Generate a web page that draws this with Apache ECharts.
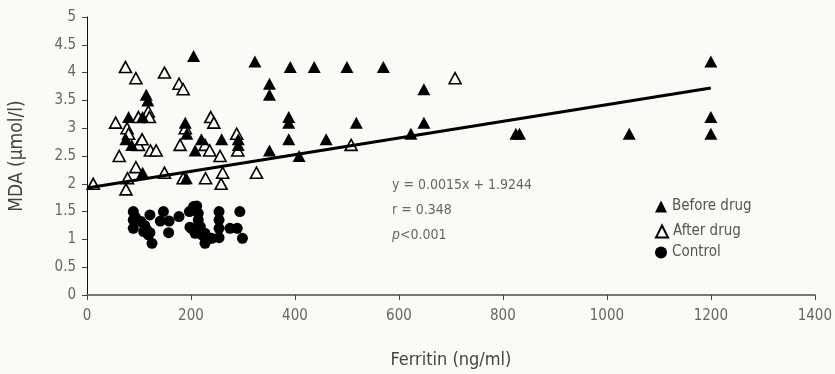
<!DOCTYPE html>
<html>
<head>
<meta charset="utf-8">
<script src="https://cdn.jsdelivr.net/npm/echarts@6/dist/echarts.min.js"></script>
<style>
  html, body { margin: 0; padding: 0; background: #fcfaf6; }
  #chart { width: 835px; height: 374px; }
</style>
</head>
<body>
<div id="chart"></div>
<script>
// ferritin (ng/ml), MDA (umol/l)
const beforeDrug = [
  [205, 4.3], [323, 4.2], [391, 4.1], [437, 4.1], [500, 4.1], [570, 4.1],
  [351, 3.8], [351, 3.6], [114, 3.6], [117, 3.5], [80, 3.2], [107, 3.2],
  [388, 3.2], [388, 3.1], [189, 3.1], [192, 2.9], [75, 2.8], [86, 2.7],
  [220, 2.8], [208, 2.6], [259, 2.8], [291, 2.8], [291, 2.7], [388, 2.8],
  [351, 2.6], [408, 2.5], [107, 2.2], [191, 2.1], [460, 2.8], [518, 3.1],
  [648, 3.7], [648, 3.1], [623, 2.9], [825, 2.9], [832, 2.9], [1043, 2.9],
  [1200, 4.2], [1200, 3.2], [1200, 2.9]
];
const afterDrug = [
  [12, 2.0], [55, 3.1], [62, 2.5], [74, 4.1], [75, 1.9], [77, 3.0], [80, 2.9],
  [78, 2.1], [94, 3.9], [94, 2.3], [99, 3.2], [99, 2.7], [106, 2.8], [118, 3.3],
  [120, 3.2], [122, 2.6], [133, 2.6], [149, 4.0], [149, 2.2], [177, 3.8],
  [185, 3.7], [179, 2.7], [185, 2.1], [189, 3.0], [228, 2.1], [227, 2.7],
  [236, 2.6], [238, 3.2], [244, 3.1], [256, 2.5], [258, 2.0], [261, 2.2],
  [288, 2.9], [290, 2.6], [326, 2.2], [508, 2.7], [708, 3.9]
];
const control = [
  [89, 1.5], [89, 1.35], [89, 1.2], [93, 1.4], [104, 1.32], [111, 1.25],
  [115, 1.17], [109, 1.14], [118, 1.08], [121, 1.12], [121, 1.44], [125, 0.93],
  [141, 1.33], [147, 1.5], [158, 1.33], [157, 1.12], [177, 1.41], [197, 1.5],
  [205, 1.59], [211, 1.6], [198, 1.22], [201, 1.2], [208, 1.11], [214, 1.47],
  [214, 1.35], [218, 1.23], [221, 1.08], [227, 1.11], [227, 1.03], [227, 0.93],
  [236, 1.02], [240, 1.02], [254, 1.5], [254, 1.35], [254, 1.2], [254, 1.03],
  [275, 1.2], [289, 1.2], [294, 1.5], [299, 1.02]
];
// regression line from the printed equation y = 0.0015x + 1.9244
const fitSlope = 0.0015;
const fitIntercept = 1.9244;
const fitRange = [0, 1200];
const fitText = ['y = 0.0015x + 1.9244', 'r = 0.348', 'p<0.001'];

const font = "'DejaVu Sans Condensed', 'Liberation Sans Narrow', sans-serif";
const chart = echarts.init(document.getElementById('chart'));

const legendBase = {
  orient: 'vertical',
  itemWidth: 12,
  itemHeight: 12,
  itemGap: 6,
  selectedMode: false,
  textStyle: { fontFamily: font, fontSize: 15, color: '#555' }
};

let option = {
  backgroundColor: '#fcfaf6',
  animation: false,
  grid: { left: 87, right: 19, top: 17, bottom: 78 },
  legend: [
    Object.assign({ left: 650, top: 194, data: ['Before drug'] }, legendBase),
    Object.assign({ left: 650, top: 219, data: ['After drug'] }, legendBase),
    Object.assign({ left: 650, top: 240, data: ['Control'] }, legendBase)
  ],
  xAxis: {
    type: 'value',
    min: 0,
    max: 1400,
    interval: 200,
    name: 'Ferritin (ng/ml)',
    nameLocation: 'middle',
    nameGap: 56,
    nameTextStyle: { fontFamily: font, fontSize: 18, color: '#444' },
    splitLine: { show: false },
    axisLine: { lineStyle: { color: '#777', width: 2 } },
    axisTick: { show: true, length: 5, lineStyle: { color: '#444' } },
    axisLabel: {
      fontFamily: font, fontSize: 15, color: '#666', margin: 14,
      formatter: v => String(v)
    }
  },
  yAxis: {
    type: 'value',
    min: 0,
    max: 5,
    interval: 0.5,
    name: 'MDA (µmol/l)',
    nameLocation: 'middle',
    nameGap: 60,
    nameTextStyle: { fontFamily: font, fontSize: 19, color: '#444' },
    splitLine: { show: false },
    axisLine: { show: true, lineStyle: { color: '#111', width: 1 } },
    axisTick: { show: true, length: 5, lineStyle: { color: '#444' } },
    axisLabel: { fontFamily: font, fontSize: 15, color: '#666', margin: 11 }
  },
  graphic: [
    {
      type: 'text', left: 392, top: 178,
      style: { text: fitText[0], fontFamily: font, fontSize: 14, fill: '#666' }
    },
    {
      type: 'text', left: 392, top: 203,
      style: { text: fitText[1], fontFamily: font, fontSize: 14, fill: '#666' }
    },
    {
      type: 'text', left: 392, top: 228,
      style: {
        text: '{i|p}{n|' + fitText[2].slice(1) + '}',
        rich: {
          i: { fontFamily: font, fontSize: 14, fill: '#666', fontStyle: 'italic' },
          n: { fontFamily: font, fontSize: 14, fill: '#666' }
        }
      }
    }
  ],
  series: [
    {
      name: 'Before drug',
      type: 'scatter',
      symbol: 'triangle',
      symbolSize: [13, 12],
      itemStyle: { color: '#000', opacity: 1 },
      data: beforeDrug,
      z: 3
    },
    {
      name: 'After drug',
      type: 'scatter',
      symbol: 'triangle',
      symbolSize: [12, 11],
      itemStyle: { color: '#fcfaf6', borderColor: '#000', borderWidth: 1.6, opacity: 1 },
      data: afterDrug,
      z: 2
    },
    {
      name: 'Control',
      type: 'scatter',
      symbol: 'circle',
      symbolSize: 11,
      itemStyle: { color: '#000', opacity: 1 },
      data: control,
      z: 3
    },
    {
      name: 'fit',
      type: 'line',
      symbol: 'none',
      lineStyle: { color: '#000', width: 3 },
      data: fitRange.map(x => [x, fitSlope * x + fitIntercept]),
      z: 4,
      silent: true
    }
  ]
};
chart.setOption(option);
</script>
</body>
</html>
